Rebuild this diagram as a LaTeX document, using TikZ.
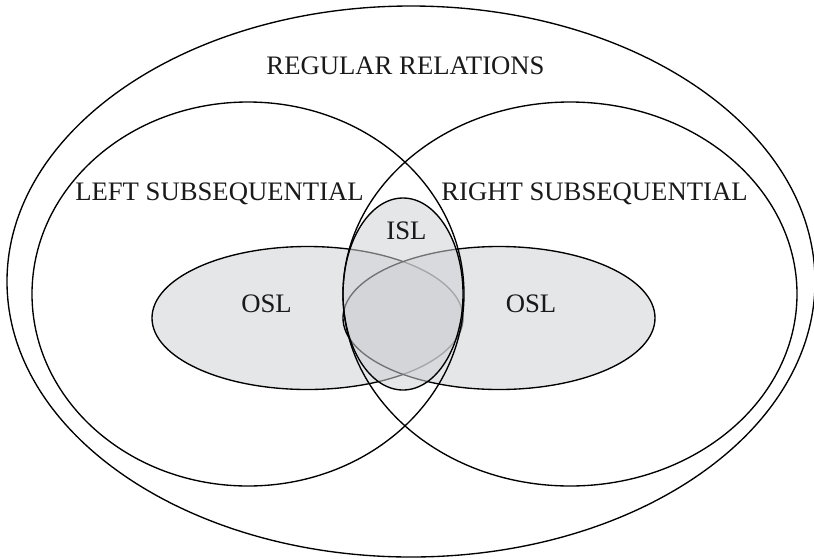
\documentclass[tikz,border=0pt]{standalone}
\usepackage{fontspec}
\setmainfont{Liberation Serif}
\definecolor{setfill}{rgb}{0.812,0.818,0.830}
\tikzset{
  setline/.style={line width=1.35pt, draw=black},
  setshade/.style={setline, fill=setfill, fill opacity=0.55},
  lbl/.style={anchor=base, inner sep=0pt, font=\fontsize{26.7}{30}\selectfont, text=black!90}
}
\begin{document}
\begin{tikzpicture}[x=1pt,y=-1pt]
\useasboundingbox (0,0) rectangle (814,558);
% shaded sets
\draw[setshade] (307.5,318) ellipse [x radius=155.5pt, y radius=71.5pt];
\draw[setshade] (499,318) ellipse [x radius=156pt, y radius=71.5pt];
\draw[setshade] (403,294) ellipse [x radius=60pt, y radius=96pt];
% outlines
\draw[setline] (411,281.5) ellipse [x radius=404pt, y radius=275.5pt];
\draw[setline] (248,294) ellipse [x radius=216pt, y radius=192pt];
\draw[setline] (570,294) ellipse [x radius=227pt, y radius=192pt];
% labels
\node[lbl] (reg) at (405.5,74) {REGULAR RELATIONS};
\node[lbl] (left) at (219.5,200) {LEFT SUBSEQUENTIAL};
\node[lbl] (right) at (594.5,200) {RIGHT SUBSEQUENTIAL};
\node[lbl] (isl) at (406.5,239) {ISL};
\node[lbl] (oslL) at (266.5,312.5) {OSL};
\node[lbl] (oslR) at (531,312.5) {OSL};
\end{tikzpicture}
\end{document}
